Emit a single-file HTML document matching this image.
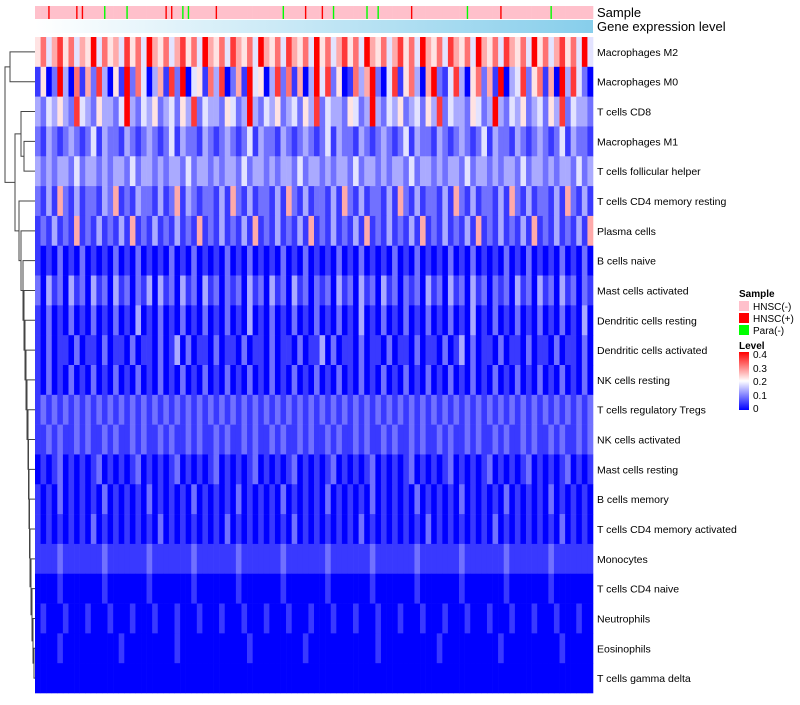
<!DOCTYPE html>
<html><head><meta charset="utf-8"><style>
body{margin:0;background:#fff;}
svg text{font-family:"Liberation Sans",sans-serif;}
</style></head><body>
<svg id="chart" width="800" height="700" viewBox="0 0 800 700" xmlns="http://www.w3.org/2000/svg">
<defs>
<linearGradient id="gexp" x1="0" x2="1" y1="0" y2="0"><stop offset="0" stop-color="#ffffff"/><stop offset="1" stop-color="#87ceeb"/></linearGradient>
<linearGradient id="lvl" x1="0" x2="0" y1="1" y2="0"><stop offset="0" stop-color="#0000ff"/><stop offset="0.5" stop-color="#ffffff"/><stop offset="1" stop-color="#ff0000"/></linearGradient>
</defs>
<g id="sample-bar"></g>
<rect x="35" y="20" width="558" height="13" fill="url(#gexp)"/>
<text x="597" y="17" font-size="13">Sample</text>
<text x="597" y="31" font-size="13">Gene expression level</text>
<g id="cells"></g>
<g id="labels"></g>
<g id="dendro" stroke="#444" stroke-width="1" fill="none"></g>
<g>
<text x="739" y="297" font-size="10" font-weight="bold">Sample</text>
<rect x="739" y="301" width="10" height="10" fill="#ffc0cb"/>
<text x="753" y="310" font-size="10">HNSC(-)</text>
<rect x="739" y="313" width="10" height="10" fill="#ff0000"/>
<text x="753" y="322" font-size="10">HNSC(+)</text>
<rect x="739" y="325" width="10" height="10" fill="#00ff00"/>
<text x="753" y="334" font-size="10">Para(-)</text>
<text x="739" y="349" font-size="10" font-weight="bold">Level</text>
<rect x="739" y="352" width="10" height="58" fill="url(#lvl)"/>
<text x="753" y="358" font-size="10">0.4</text>
<text x="753" y="372" font-size="10">0.3</text>
<text x="753" y="385" font-size="10">0.2</text>
<text x="753" y="399" font-size="10">0.1</text>
<text x="753" y="412" font-size="10">0</text>
</g>
</svg>
<script>
const rowNames=["Macrophages M2","Macrophages M0","T cells CD8","Macrophages M1","T cells follicular helper","T cells CD4 memory resting","Plasma cells","B cells naive","Mast cells activated","Dendritic cells resting","Dendritic cells activated","NK cells resting","T cells regulatory  Tregs","NK cells activated","Mast cells resting","B cells memory","T cells CD4 memory activated","Monocytes","T cells CD4 naive","Neutrophils","Eosinophils","T cells gamma delta"];
const rowValues=[
"5746857465947564857496574685749657486574965748657495746857496574685749657486574965748657495746857494",
"1502930716283051927403618290451738026194503827160394825017369204815730692148305726190348257160938420",
"3243532843253324932435234253824332542393243523425382433254239324352342538243325423932435234253824332",
"2132123212413221321232124132213212321241322132123212413221321232124132213212321241322132123212413221",
"3232332423323233242332323324233232332423323233242332323324233232332423323233242332323324233232332423",
"2131621312213261213221312613212213162131221316213122131621312213162131221316213122131621312213162131",
"1213121612131213161213121312161213121316121312131612131213161213121316121312131612131213161213121316",
"1010201020101020102010102010201010201020101020102010102010201010201020101020102010102010201010201020",
"2031203120312031202130312031203120212031203120312021203120312031202120312031203120212031203120312021",
"1020102010201020103010201020102010201030102010201020102010301020102010201020103010201020102010201030",
"1020110201102011020110201302011020110201102011020113020110201102011020110201302011020110201102011020",
"1020102010201020102010201020102010201020102010201020102010201020102010201020102010201020102010201020",
"1212121212121212121212121212121212121212121212121212121212121212121212121212121212121212121212121212",
"1121211212112121121211212112121121211212112121121211212112121121211212112121121211212112121121211212",
"0101201010120101012010101201010120101012010101201010120101012010101201010120101012010101201010120101",
"1010201010102010101020101010201010102010101020101010201010102010101020101010201010102010101020101010",
"1010101010201010101010201010101010201010101010201010101010201010101010201010101010201010101010201010",
"1111211111112111111121111111211111112111111121111111211111112111111121111111211111112111111121111111",
"0000100000001000000010000000100000001000000010000000100000001000000010000000100000001000000010000000",
"0100010001000100010001000100010001000100010001000100010001000100010001000100010001000100010001000100",
"0000100000000001000000000100000000000010000000001000000000000100000000001000000000010000000000100000",
"0000000000000000000000000000000000000000000000000000000000000000000000000000000000000000000000000000"];
const sampleCodes="nnpnnnnppnnngnnngnnnnnnppnggnnnnpnnnnnnnnnnngnnnpnnpngnnnnngngnnnnnpnnnnnnnnngnnnnnpnnnnnnnngnnnnnnn";
const merges=[[0,1,10],[3,4,24],[2,23,21],[20,21,34],[19,25,33],[18,26,32],[17,27,31],[16,28,30],[15,29,29.5],[14,30,29],[13,31,28.5],[12,32,28],[11,33,27],[10,34,26],[9,35,25],[8,36,24],[7,37,23],[6,38,21],[5,39,19],[24,40,15],[22,41,5]];
const NS="http://www.w3.org/2000/svg";
const X0=35,X1=593,Y0=37,Y1=693;
const rowH=(Y1-Y0)/rowNames.length;
function yRow(i){return Y0+i*rowH;}
function color(d){const v=d*0.4/9,t=v/0.2;
 if(t<=1){const c=Math.round(255*t);return `rgb(${c},${c},255)`;}
 const c=Math.round(255*(2-t));return `rgb(255,${c},${c})`;}
const cells=document.getElementById('cells');
rowValues.forEach((s,i)=>{const w=(X1-X0)/s.length;
 for(let j=0;j<s.length;j++){const r=document.createElementNS(NS,'rect');
  
  
  r.setAttribute('x',X0+j*w);r.setAttribute('y',yRow(i));r.setAttribute('width',w+0.3);r.setAttribute('height',rowH+0.3);
  r.setAttribute('fill',color(+s[j]));cells.appendChild(r);}
 const t=document.createElementNS(NS,'text');
 
 
 t.setAttribute('x',597);t.setAttribute('y',yRow(i)+rowH/2+4);t.setAttribute('font-size','10.5');
 t.textContent=rowNames[i];document.getElementById('labels').appendChild(t);});
const sb=document.getElementById('sample-bar');const sw=(X1-X0)/sampleCodes.length;
const scol={n:'#ffc0cb',p:'#ff0000',g:'#00ff00'};
for(let j=0;j<sampleCodes.length;j++){const r=document.createElementNS(NS,'rect');
 
 
 const c=sampleCodes[j];const narrow=c!=='n';
 r.setAttribute('x',X0+j*sw+(narrow?sw/2-0.7:0));r.setAttribute('y',6);r.setAttribute('width',narrow?1.4:sw+0.3);r.setAttribute('height',13);
 r.setAttribute('fill',scol[c]);if(narrow){const b=document.createElementNS(NS,'rect');
 
 
 b.setAttribute('x',X0+j*sw);b.setAttribute('y',6);b.setAttribute('width',sw+0.3);b.setAttribute('height',13);b.setAttribute('fill',scol.n);sb.appendChild(b);}
 sb.appendChild(r);}
const nodes=rowNames.map((_,i)=>({x:X0,y:yRow(i)+rowH/2}));
const dg=document.getElementById('dendro');
merges.forEach(m=>{const a=nodes[m[0]],b=nodes[m[1]],x=m[2];
 const p=document.createElementNS(NS,'path');
 
 
 p.setAttribute('d',`M${a.x},${a.y}H${x}V${b.y}H${b.x}`);dg.appendChild(p);
 nodes.push({x:x,y:(a.y+b.y)/2});});
</script>
</body></html>
